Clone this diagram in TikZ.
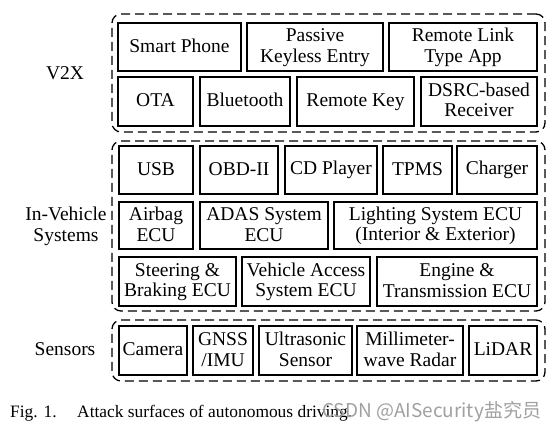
\documentclass[tikz,border=0pt]{standalone}
\usepackage{fontspec}
\setmainfont{Liberation Serif}
\newfontfamily\cjkfont{Noto Sans CJK SC}
\definecolor{wmgray}{RGB}{160,160,160}
\newcommand\mystrut{\rule[-3.5pt]{0pt}{17.5pt}}
\begin{document}
\begin{tikzpicture}[x=1pt,y=-1pt,
  cell/.style={draw, line width=1.45pt, inner sep=0pt, align=center, font=\fontsize{19.5}{20.5}\selectfont},
  group/.style={draw, line width=1.3pt, dash pattern=on 9pt off 5pt, rounded corners=9pt, inner sep=0pt},
  lab/.style={align=center, font=\fontsize{19.5}{20.5}\selectfont},
  captext/.style={anchor=base west, inner sep=0pt, font=\fontsize{17.4}{19}\selectfont},
  wm/.style={anchor=base west, inner sep=0pt, text=wmgray, font=\cjkfont\fontsize{19}{21}\selectfont}]
\useasboundingbox (0,0) rectangle (553,435);
\newcommand\boxat[7]{\node[#1, minimum width={(#5-#3)*1pt}, minimum height={(#6-#4)*1pt}] (#2) at ({(#3+#5)/2},{(#4+#6)/2}) {\mystrut #7\mystrut};}
% group frames
\boxat{group}{gv2x}{112}{14}{545}{132}{}
\boxat{group}{gin}{112}{141}{545}{311}{}
\boxat{group}{gsen}{112}{320}{545}{381}{}
% labels
\node[lab] (lv2x) at (65,74) {\mystrut V2X\mystrut};
\node[lab] (lin) at (66,226) {\mystrut In-Vehicle\\Systems\mystrut};
\node[lab] (lsen) at (65,350) {\mystrut Sensors\mystrut};
% V2X
\boxat{cell}{smart}{118}{23}{241}{71}{Smart Phone}
\boxat{cell}{pke}{247}{23}{383}{71}{Passive\\Keyless Entry}
\boxat{cell}{rla}{389}{23}{537}{71}{Remote Link\\Type App}
\boxat{cell}{ota}{118}{77}{193}{126}{OTA}
\boxat{cell}{bt}{200}{77}{290}{126}{Bluetooth}
\boxat{cell}{rk}{297}{77}{414}{126}{Remote Key}
\boxat{cell}{dsrc}{421}{77}{537}{126}{DSRC-based\\Receiver}
% In-vehicle
\boxat{cell}{usb}{119}{146}{193}{194}{USB}
\boxat{cell}{obd}{200}{146}{278}{194}{OBD-II}
\boxat{cell}{cd}{285}{146}{377}{194}{CD Player}
\boxat{cell}{tpms}{383}{146}{452}{194}{TPMS}
\boxat{cell}{chg}{457}{146}{537}{194}{Charger}
\boxat{cell}{air}{119}{202}{193}{249}{Airbag\\ECU}
\boxat{cell}{adas}{200}{202}{328}{249}{ADAS System\\ECU}
\boxat{cell}{light}{334}{202}{537}{249}{Lighting System ECU\\(Interior \& Exterior)}
\boxat{cell}{steer}{119}{257}{236}{306}{Steering \&\\Braking ECU}
\boxat{cell}{vas}{242}{257}{370}{306}{Vehicle Access\\System ECU}
\boxat{cell}{eng}{377}{257}{537}{306}{Engine \&\\Transmission ECU}
% Sensors
\boxat{cell}{cam}{119}{326}{187}{375}{Camera}
\boxat{cell}{gnss}{193}{326}{253}{375}{GNSS\\/IMU}
\boxat{cell}{ultra}{259}{326}{352}{375}{Ultrasonic\\Sensor}
\boxat{cell}{mmw}{357}{326}{463}{375}{Millimeter-\\wave Radar}
\boxat{cell}{lidar}{469}{326}{537}{375}{LiDAR}
% caption
\node[captext] (fig) at (10,417) {Fig. 1.};
\node[captext] (captxt) at (77,417) {Attack surfaces of autonomous driving.};
\node[wm] (wmark) at (322,417) {CSDN @AISecurity盐究员};
\end{tikzpicture}
\end{document}
